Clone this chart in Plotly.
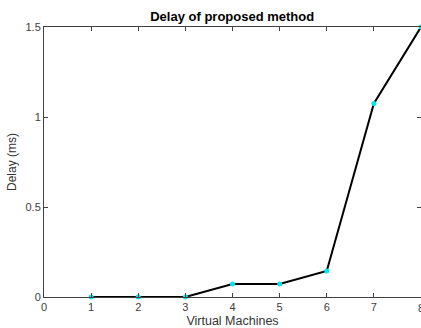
import plotly.graph_objects as go

vms = [1, 2, 3, 4, 5, 6, 7, 8]
delay = [0, 0, 0, 0.072, 0.072, 0.145, 1.075, 1.5]
x_ticks = [0, 1, 2, 3, 4, 5, 6, 7, 8]
y_ticks = [0, 0.5, 1, 1.5]
y_tick_text = ["0", "0.5", "1", "1.5"]

fig = go.Figure()
fig.add_trace(go.Scatter(
    x=vms, y=delay, mode="lines+markers",
    line=dict(color="black", width=2),
    marker=dict(color="#00e5ee", size=5, line=dict(width=0)),
    cliponaxis=False, showlegend=False,
))

axis_color = "#404040"
# the last tick label sits on the right edge and is partly cut in the reference
fig.add_annotation(x=x_ticks[-1], xref="x", y=0, yref="paper", yanchor="top",
                   xanchor="center", yshift=-3, text=str(x_ticks[-1]), showarrow=False,
                   font=dict(size=11, color="#404040"))

fig.update_layout(
    width=421, height=328,
    margin=dict(l=44, r=0, t=27, b=31),
    paper_bgcolor="white", plot_bgcolor="white",
    font=dict(family="Liberation Sans, Arial, sans-serif", size=11, color="#404040"),
    title=dict(text="<b>Delay of proposed method</b>", x=0.5516, xanchor="center",
               y=0.95, yanchor="middle", font=dict(size=13, color="black")),
    xaxis=dict(range=[0, 8], tickvals=x_ticks, showgrid=False, zeroline=False,
               showline=True, linecolor=axis_color, linewidth=1, mirror="ticks",
               ticks="inside", ticklen=4, tickcolor=axis_color,
               title=dict(text="Virtual Machines", font=dict(size=12.5, color="#333333"), standoff=4)),
    yaxis=dict(range=[0, 1.5], tickvals=y_ticks, ticktext=y_tick_text, showgrid=False, zeroline=False,
               showline=True, linecolor=axis_color, linewidth=1, mirror="ticks",
               ticks="inside", ticklen=4, tickcolor=axis_color,
               title=dict(text="Delay (ms)", font=dict(size=12, color="#333333"), standoff=6)),
)

fig.write_html("out.html")
